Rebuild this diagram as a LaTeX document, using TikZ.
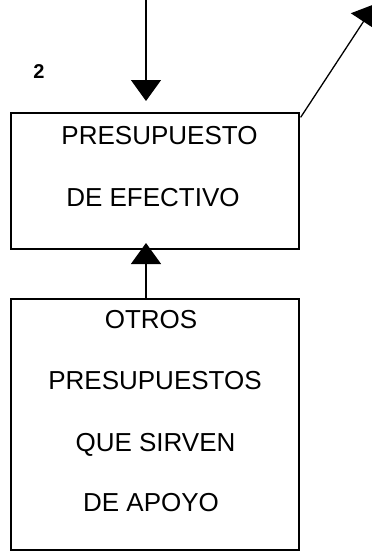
\documentclass[tikz,border=0pt]{standalone}
\usepackage{fontspec}
\setmainfont{Liberation Sans}
\usetikzlibrary{arrows.meta,calc}
\tikzset{
  boxstyle/.style={draw=black, line width=1.3pt, inner sep=0pt},
  boxtext/.style={inner sep=0pt, anchor=base, font=\fontsize{26}{26}\selectfont},
  flow/.style={draw=black, line width=1.3pt, -{Triangle[width=30pt,length=21pt]}},
}
\begin{document}
\begin{tikzpicture}[x=1pt,y=-1pt]
\useasboundingbox (0,0) rectangle (372,552);
% boxes
\node[boxstyle, minimum width=288pt, minimum height=136pt] (cash) at (155,181) {};
\node[boxstyle, minimum width=288pt, minimum height=251pt] (other) at (155,424.5) {};
% texts
\node[boxtext] (t1) at (159.5,144.3) {PRESUPUESTO};
\node[boxtext] (t2) at (153,206.7) {DE EFECTIVO};
\node[boxtext] (t3) at (151,328) {OTROS};
\node[boxtext] (t4) at (155,389.3) {PRESUPUESTOS};
\node[boxtext] (t5) at (155.5,451) {QUE SIRVEN};
\node[boxtext] (t6) at (151,511.5) {DE APOYO};
\node[inner sep=0pt, anchor=base] (num) at (39,78) {\bfseries\fontsize{20}{20}\selectfont 2};
% connectors
\coordinate (inTop) at (146,0);
\coordinate (inTip) at (146,101);
\draw[flow] (inTop) -- (inTip);
\coordinate (upStart) at (146,299);
\coordinate (upTip) at (146,243);
\draw[flow] (upStart) -- (upTip);
\coordinate (diagStart) at ($(cash.north east)+(1,5)$);
\coordinate (diagTip) at (375,4);
\draw[flow] (diagStart) -- (diagTip);
\end{tikzpicture}
\end{document}
